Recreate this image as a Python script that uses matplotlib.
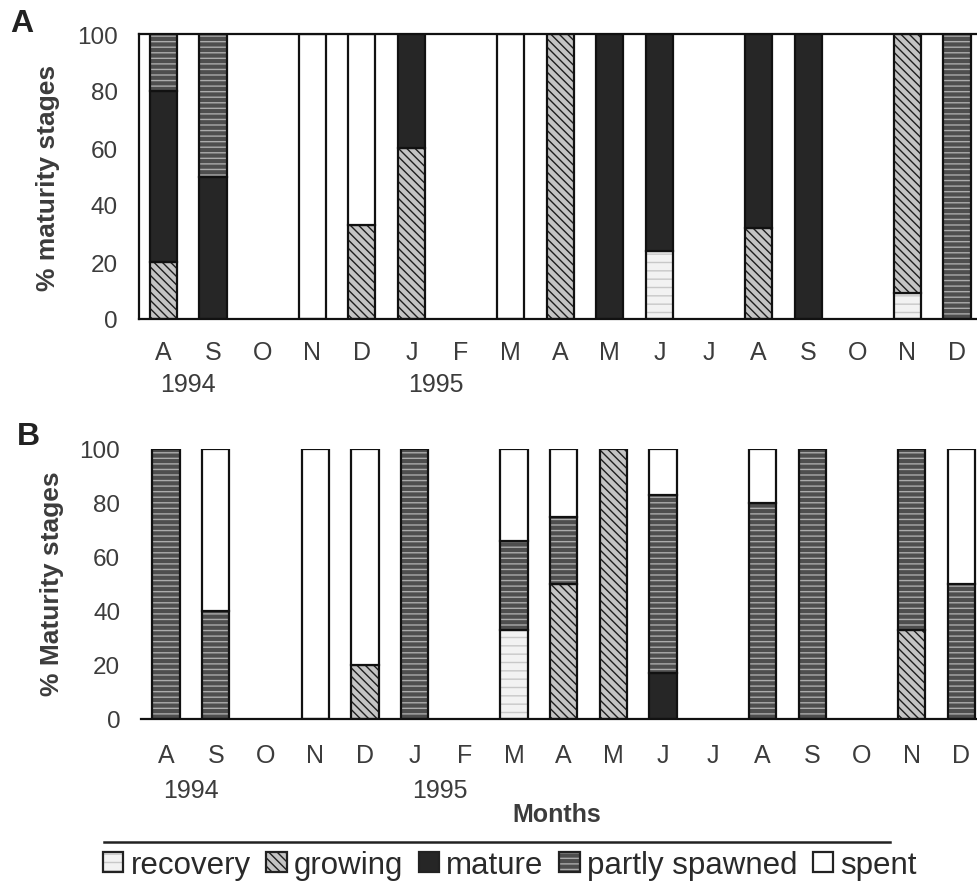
import numpy as np
import matplotlib
matplotlib.use('Agg')
import matplotlib.pyplot as plt
from matplotlib.patches import Patch
from matplotlib.lines import Line2D

plt.rcParams['font.family'] = ['Liberation Sans', 'DejaVu Sans']
plt.rcParams['hatch.linewidth'] = 1.0

months = ['A', 'S', 'O', 'N', 'D', 'J', 'F', 'M', 'A', 'M', 'J', 'J', 'A', 'S', 'O', 'N', 'D']
years = ['1994', '1995']
stages = ['recovery', 'growing', 'mature', 'partly spawned', 'spent']

# panel A - % of each maturity stage per month
recovery_a = [0, 0, 0, 0, 0, 0, 0, 0, 0, 0, 24, 0, 0, 0, 0, 9, 0]
growing_a = [20, 0, 0, 0, 33, 60, 0, 0, 100, 0, 0, 0, 32, 0, 0, 91, 0]
mature_a = [60, 50, 0, 0, 0, 40, 0, 0, 0, 100, 76, 0, 68, 100, 0, 0, 0]
partly_a = [20, 50, 0, 0, 0, 0, 0, 0, 0, 0, 0, 0, 0, 0, 0, 0, 100]
spent_a = [0, 0, 0, 100, 67, 0, 0, 100, 0, 0, 0, 0, 0, 0, 0, 0, 0]

# panel B
recovery_b = [0, 0, 0, 0, 0, 0, 0, 33, 0, 0, 0, 0, 0, 0, 0, 0, 0]
growing_b = [0, 0, 0, 0, 20, 0, 0, 0, 50, 100, 0, 0, 0, 0, 0, 33, 0]
mature_b = [0, 0, 0, 0, 0, 0, 0, 0, 0, 0, 17, 0, 0, 0, 0, 0, 0]
partly_b = [100, 40, 0, 0, 0, 100, 0, 33, 25, 0, 66, 0, 80, 100, 0, 67, 50]
spent_b = [0, 60, 0, 100, 80, 0, 0, 34, 25, 0, 17, 0, 20, 0, 0, 0, 50]

# face colour, hatch, hatch colour
styles = {
    'recovery': ('#f2f2f2', '--', '#c8c8c8'),
    'growing': ('#c4c4c4', '\\\\\\\\', '#1e1e1e'),
    'mature': ('#262626', None, '#262626'),
    'partly spawned': ('#4e4e4e', '---', '#ababab'),
    'spent': ('white', None, 'white'),
}
txt = '#3c3c3c'


def draw_panel(ax, data):
    x = np.arange(len(months))
    bottom = np.zeros(len(months))
    for name, vals in zip(stages, data):
        vals = np.array(vals, float)
        face, hatch, hc = styles[name]
        m = vals > 0
        ax.bar(x[m], vals[m], 0.55, bottom=bottom[m], color=face, hatch=hatch,
               edgecolor=hc, linewidth=0)
        ax.bar(x[m], vals[m], 0.55, bottom=bottom[m], fill=False,
               edgecolor='#111111', linewidth=1.6)
        bottom += vals
    ax.set_xlim(-0.5, 16.5)
    ax.set_ylim(0, 100)
    ax.set_yticks([0, 20, 40, 60, 80, 100])
    ax.set_xticks(x)
    ax.set_xticklabels(months)
    ax.tick_params(length=0, colors=txt)
    ax.tick_params(axis='y', labelsize=17.5, pad=15)
    ax.tick_params(axis='x', labelsize=18)
    ax.spines['right'].set_visible(False)
    ax.spines['bottom'].set_linewidth(1.6)
    ax.spines['bottom'].set_color('#111111')


fig = plt.figure(figsize=(9.78, 8.87), dpi=100)

axA = fig.add_axes([138.7 / 978, 567 / 887, 843 / 978, 285 / 887])
draw_panel(axA, [recovery_a, growing_a, mature_a, partly_a, spent_a])
axA.spines['top'].set_linewidth(1.6)
axA.spines['top'].set_color('#111111')
axA.spines['left'].set_linewidth(1.6)
axA.spines['left'].set_color('#111111')
axA.tick_params(axis='x', pad=15)

axB = fig.add_axes([141.2 / 978, 167 / 887, 845 / 978, 270 / 887])
draw_panel(axB, [recovery_b, growing_b, mature_b, partly_b, spent_b])
axB.spines['top'].set_visible(False)
axB.spines['left'].set_visible(False)
axB.tick_params(axis='x', pad=17)

for ax, yy in [(axA, -0.228), (axB, -0.262)]:
    tr = ax.get_xaxis_transform()
    ax.text(0.5, yy, years[0], transform=tr, ha='center', va='center', fontsize=18, color=txt)
    ax.text(5.5, yy, years[1], transform=tr, ha='center', va='center', fontsize=18, color=txt)

fig.text(48 / 978, 1 - 178 / 887, '% maturity stages', rotation=90, ha='center', va='center',
         fontsize=19, fontweight='bold', color=txt)
fig.text(52 / 978, 1 - 584 / 887, '% Maturity stages', rotation=90, ha='center', va='center',
         fontsize=19, fontweight='bold', color=txt)
fig.text(22 / 978, 1 - 24 / 887, 'A', ha='center', va='center', fontsize=23, fontweight='bold', color='#222222')
fig.text(28 / 978, 1 - 437 / 887, 'B', ha='center', va='center', fontsize=23, fontweight='bold', color='#222222')
fig.text(557 / 978, 1 - 815 / 887, 'Months', ha='center', va='center', fontsize=18, fontweight='bold', color=txt)

fig.add_artist(Line2D([104 / 978, 890 / 978], [1 - 843 / 887] * 2, color='#222222', lw=1.8))

handles = []
for name in stages:
    face, hatch, hc = styles[name]
    inner = Patch(facecolor=face, hatch=hatch, edgecolor=hc, linewidth=0)
    outer = Patch(fill=False, edgecolor='#222222', linewidth=1.6)
    handles.append((inner, outer))
fig.legend(handles, stages, loc='center', bbox_to_anchor=(510 / 978, 1 - 866 / 887),
           ncol=5, frameon=False, fontsize=22.5, handlelength=0.65, handleheight=0.65,
           handletextpad=0.23, columnspacing=0.5, borderpad=0, labelcolor='#2a2a2a')

fig.savefig('out.png', dpi=100)
